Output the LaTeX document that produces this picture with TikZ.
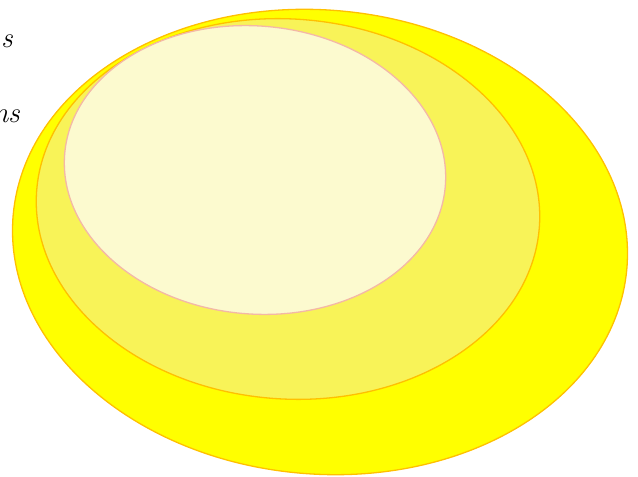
\documentclass[tikz,border=0pt]{standalone}
\usepackage{tikz}
\usetikzlibrary{shapes.geometric}

\definecolor{setyellow}{HTML}{FFFF00}
\definecolor{setmid}{HTML}{F8F358}
\definecolor{setpale}{HTML}{FCFACF}
\definecolor{setedge}{HTML}{FFC000}
\definecolor{setpink}{HTML}{F4B8A6}

\begin{document}
\begin{tikzpicture}[
  x=1pt, y=1pt,
  set/.style={ellipse, draw=setedge, line width=1.3pt, inner sep=0pt},
  label/.style={anchor=base east, inner sep=0pt, font=\fontsize{29}{34}\selectfont\itshape}
]
\useasboundingbox (0,0) rectangle (638,477);
\clip (0,0) rectangle (638,477);

\node[set, fill=setyellow, minimum width=616pt, minimum height=464pt, rotate=-5] (outer) at (320,235) {};
\node[set, fill=setmid, minimum width=504pt, minimum height=380pt, rotate=-4] (middle) at (288,268) {};
\node[set, fill=setpale, draw=setpink, minimum width=382pt, minimum height=288pt, rotate=-5] (inner) at (255,307) {};

\node[label] (top) at (13,429) {s};
\node[label] (low) at (20,354) {ns};

\end{tikzpicture}
\end{document}
